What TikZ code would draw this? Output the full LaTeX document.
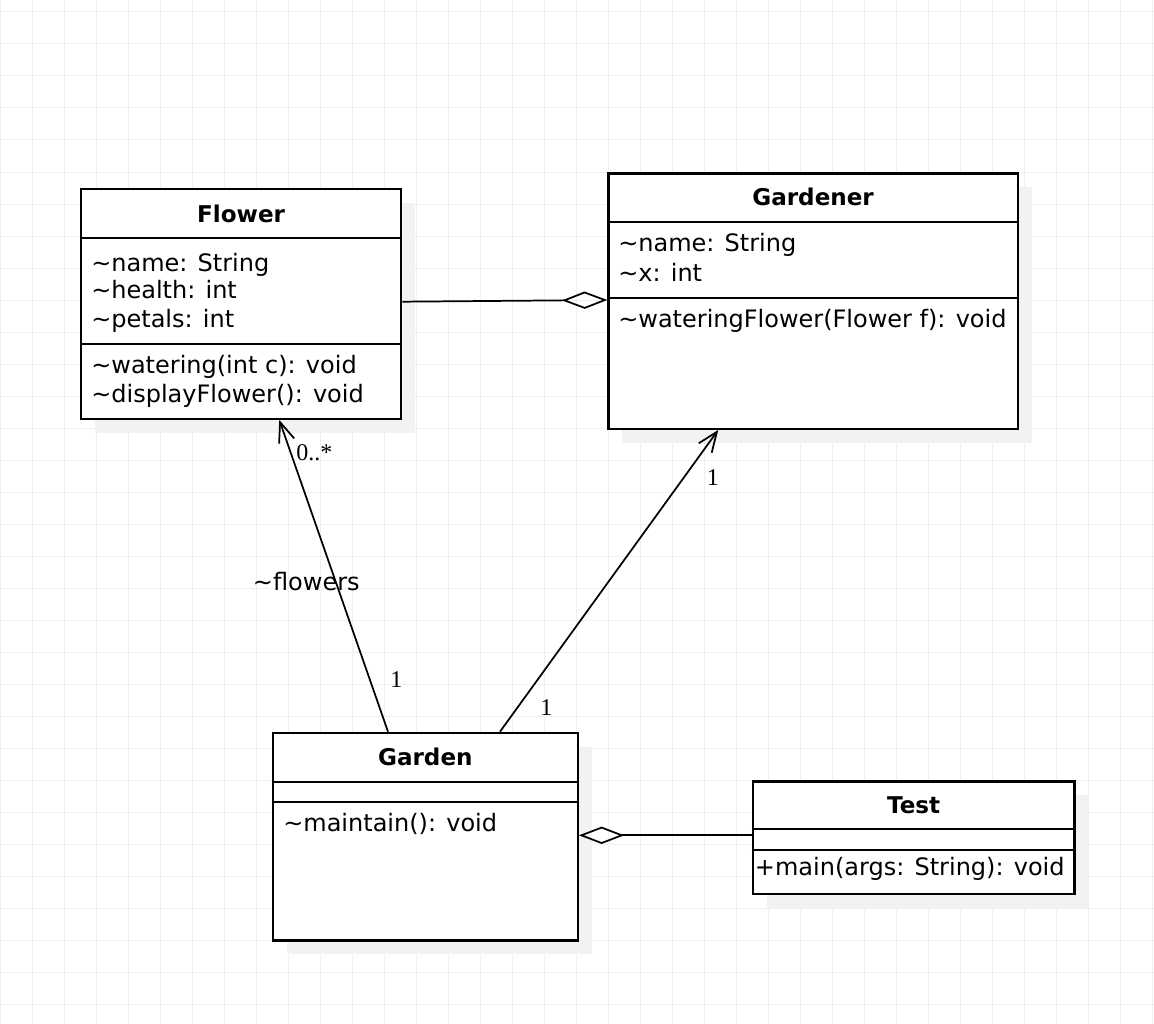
\documentclass[tikz,border=0pt]{standalone}
\usepackage{fontspec}
\setmainfont{DejaVu Sans}
\newfontfamily\multfont{Liberation Serif}
\usetikzlibrary{arrows.meta,calc,positioning,shadows}

\begin{document}
\begin{tikzpicture}[
			x=0.75pt, y=-0.75pt,
			umlclass/.style={draw, rectangle, line width=1.7pt, fill=white, inner sep=0pt, anchor=north west,
				drop shadow={shadow xshift=10.5pt, shadow yshift=-10.5pt, fill=black!5, opacity=1}},
			classtitle/.style={font=\fontsize{17.3}{20}\selectfont\bfseries, inner sep=0pt, anchor=base},
			member/.style={font=\fontsize{18}{20}\selectfont, inner sep=0pt, anchor=base west},
			mult/.style={font=\multfont\fontsize{18}{20}\selectfont, inner sep=0pt, anchor=base west},
			divider/.style={line width=1.7pt},
			gridline/.style={draw=black!6, line width=0.75pt},
			assoc/.style={-{Straight Barb[length=15pt, width=12pt]}, line width=1.3pt},
			aggr/.style={-{Diamond[open, length=34pt, width=13pt]}, line width=1.3pt}
			]
			\useasboundingbox (0,0) rectangle (1154,1024);
			\fill[white] (0,0) rectangle (1154,1024);
			
			% background grid
			\foreach \gx in {0,32,...,1152}
			\draw[gridline] (\gx,0) -- (\gx,1024);
			\foreach \gy in {12,44,...,1020}
			\draw[gridline] (0,\gy) -- (1154,\gy);
			
			% classes
			\node[umlclass, minimum width=240pt, minimum height=172.5pt] (flower) at (80,187.7) {};
			\node[umlclass, minimum width=307pt, minimum height=191.5pt] (gardener) at (607.3,172.3) {};
			\node[umlclass, minimum width=228.75pt, minimum height=155.7pt] (garden) at (271.7,731.7) {};
			\node[umlclass, minimum width=241.2pt, minimum height=84.3pt] (test) at (751.7,780.3) {};
			
			\draw[divider] ($(flower.north west)+(0,50.6)$) -- ($(flower.north east)+(0,50.6)$);
			\draw[divider] ($(flower.north west)+(0,156.6)$) -- ($(flower.north east)+(0,156.6)$);
			\draw[divider] ($(gardener.north west)+(0,49.4)$) -- ($(gardener.north east)+(0,49.4)$);
			\draw[divider] ($(gardener.north west)+(0,125.4)$) -- ($(gardener.north east)+(0,125.4)$);
			\draw[divider] ($(garden.north west)+(0,50)$) -- ($(garden.north east)+(0,50)$);
			\draw[divider] ($(garden.north west)+(0,70)$) -- ($(garden.north east)+(0,70)$);
			\draw[divider] ($(test.north west)+(0,49)$) -- ($(test.north east)+(0,49)$);
			\draw[divider] ($(test.north west)+(0,70)$) -- ($(test.north east)+(0,70)$);
			
			% Flower
			\node[classtitle] (flowertitle) at ($(flower.north)+(0,34.3)$) {Flower};
			\node[member] (fname) at ($(flower.north west)+(11,83.3)$) {\textasciitilde name: String};
			\node[member] (fhealth) at ($(flower.north west)+(11,110.6)$) {\textasciitilde health: int};
			\node[member] (fpetals) at ($(flower.north west)+(11,139.6)$) {\textasciitilde petals: int};
			\node[member] (fwater) at ($(flower.north west)+(11,185.6)$) {\textasciitilde watering(int c): void};
			\node[member] (fdisplay) at ($(flower.north west)+(11,215)$) {\textasciitilde displayFlower(): void};
			
			% Gardener
			\node[classtitle] (gardenertitle) at ($(gardener.north)+(0,33.4)$) {Gardener};
			\node[member] (gname) at ($(gardener.north west)+(10.7,79.4)$) {\textasciitilde name: String};
			\node[member] (gx) at ($(gardener.north west)+(10.7,108.7)$) {\textasciitilde x: int};
			\node[member] (gwater) at ($(gardener.north west)+(10.7,155.4)$) {\textasciitilde wateringFlower(Flower f): void};
			
			% Garden
			\node[classtitle] (gardentitle) at ($(garden.north)+(0,34)$) {Garden};
			\node[member] (gmaintain) at ($(garden.north west)+(11.3,100)$) {\textasciitilde maintain(): void};
			
			% Test
			\node[classtitle] (testtitle) at ($(test.north)+(0,33.4)$) {Test};
			\node[member] (tmain) at ($(test.north west)+(3,95)$) {+main(args: String): void};
			
			% aggregations
			\coordinate (fgstart) at ($(flower.north east)+(0,114)$);
			\coordinate (fgend) at ($(gardener.north west)+(0,127.7)$);
			\draw[aggr] (fgstart) -- (fgend);
			
			\coordinate (tgstart) at ($(test.north west)+(0,55)$);
			\draw[aggr] (tgstart) -- (tgstart -| garden.east);
			
			% associations
			\coordinate (gfstart) at ($(garden.north west)+(116.3,0)$);
			\coordinate (gfend) at ($(flower.south west)+(199.3,0)$);
			\draw[assoc] (gfstart) -- (gfend);
			
			\coordinate (ggstart) at ($(garden.north west)+(228.3,0)$);
			\coordinate (ggend) at ($(gardener.south west)+(111,0)$);
			\draw[assoc] (ggstart) -- (ggend);
			
			% multiplicities and role
			\node[mult] (multmany) at (296,460) {0..*};
			\node[member] (rolename) at (252.7,590) {\textasciitilde flowers};
			\node[mult] (multgf) at (390,687) {1};
			\node[mult] (multgg) at (706.7,485.7) {1};
			\node[mult] (multgarden) at (540,715) {1};
		\end{tikzpicture}
\end{document}
